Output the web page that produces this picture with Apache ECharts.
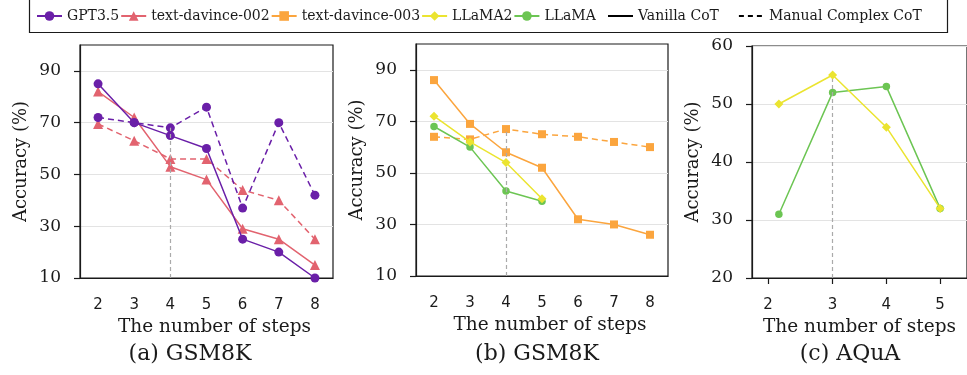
<!DOCTYPE html>
<html><head><meta charset="utf-8">
<script src="https://cdn.jsdelivr.net/npm/echarts@6/dist/echarts.min.js"></script>
<style>html,body{margin:0;padding:0;background:#fff}#c{width:967px;height:375px}</style>
</head><body><div id="c"></div>
<script>
// ---- data ----
const stepsAB = ['2','3','4','5','6','7','8'];
const stepsC = [2,3,4,5];
const yTicksAB = [10,30,50,70,90];
const yTicksC = [20,30,40,50,60];
const cTickLabels = ['2','3','4','5'];

const gptVanilla   = [85,70,65,60,25,20,10];
const gptComplex   = [72,70,68,76,37,70,42];
const d002Vanilla  = [82,72,53,48,29,25,15];
const d002Complex  = [69.5,63,56,56,44,40,25];
const d003Vanilla  = [86,69,58,52,32,30,26];
const d003Complex  = [64,63,67,65,64,62,60];
const llama2GSM    = [72,62,54,40];
const llamaGSM     = [68,60,43,39];
const llama2AQuA   = [50,55,46,32];
const llamaAQuA    = [31,52,53,32];

const modelNames = ['GPT3.5','text-davince-002','text-davince-003','LLaMA2','LLaMA'];
const styleNames = ['Vanilla CoT','Manual Complex CoT'];
const captions = ['(a) GSM8K','(b) GSM8K','(c) AQuA'];

// ---- styles ----
const SERIF = '"DejaVu Serif"';
const SANS = '"DejaVu Sans"';
const INK = '#1a1a1a';
const C = {gpt:'#6a1fa8', d002:'#e2636f', d003:'#fba53e', llama2:'#ebe430', llama:'#6cc553'};
const DASH = [6,4];

function ln(name, data, color, symbol, size, dashed, gi, z, mark) {
  const s = {
    type:'line', name, data, xAxisIndex:gi, yAxisIndex:gi,
    symbol, symbolSize:size, color, z: z || 2,
    lineStyle:{width:1.5, color, type: dashed ? DASH : 'solid'},
    itemStyle:{color}, emphasis:{disabled:true}, animation:false
  };
  if (mark) {
    s.markLine = {
      silent:true, symbol:'none', animation:false,
      label:{show:false},
      lineStyle:{color:'#aaaaaa', width:1.2, type:[4,3]},
      data:[[{coord:mark[0]},{coord:mark[1]}]]
    };
  }
  return s;
}

function xCat(gi) {
  return {
    type:'category', gridIndex:gi, data:stepsAB, boundaryGap:true,
    axisLine:{lineStyle:{color:INK, width:1.2}},
    axisTick:{alignWithLabel:true, length:6, lineStyle:{color:INK, width:1.2}},
    axisLabel:{margin:20, fontFamily:SANS, fontSize:15, color:INK},
    splitLine:{show:false},
    name:'The number of steps', nameLocation:'middle', nameGap:40,
    nameTextStyle:{fontFamily:SERIF, fontSize:18.5, color:INK, padding:[0,0,0,16]}
  };
}
function yVal(gi, min, max, ticks, interval) {
  return {
    type:'value', gridIndex:gi, min, max, interval,
    axisLine:{show:true, lineStyle:{color:INK, width:1.2}},
    axisTick:{show:true, length:6, customValues:ticks, lineStyle:{color:INK, width:1.2}},
    axisLabel:{margin:19, customValues:ticks, fontFamily:SERIF, fontSize:17, color:INK},
    splitLine:{show:true, lineStyle:{color:'#e3e3e3', width:1.2}},
    name:'Accuracy (%)', nameLocation:'middle', nameGap:50,
    nameTextStyle:{fontFamily:SERIF, fontSize:18, color:INK}
  };
}

const gridBase = {show:true, borderColor:INK, borderWidth:1.2, backgroundColor:'transparent'};
const legendText = {fontFamily:SERIF, fontSize:14, color:INK};
const captionX = [190, 537, 850];

const option = {
  animation:false,
  backgroundColor:'#ffffff',
  grid:[
    Object.assign({left:80, top:45, width:253, height:233}, gridBase),
    Object.assign({left:416, top:44, width:252, height:232}, gridBase),
    Object.assign({left:752, top:46, width:220, height:232}, gridBase)
  ],
  xAxis:[
    xCat(0), xCat(1),
    {
      type:'value', gridIndex:2, min:1.5, max:5.5,
      axisLine:{lineStyle:{color:INK, width:1.2}},
      axisTick:{length:6, customValues:[1.8,3,4,5], lineStyle:{color:INK, width:1.2}},
      axisLabel:{margin:20, customValues:[1.8,3,4,5], fontFamily:SANS, fontSize:15, color:INK,
        formatter:v => cTickLabels[Math.round(v) - 2]},
      splitLine:{show:false},
      name:'The number of steps', nameLocation:'middle', nameGap:40,
      nameTextStyle:{fontFamily:SERIF, fontSize:18.5, color:INK}
    }
  ],
  yAxis:[
    yVal(0, 10, 100, yTicksAB, 20),
    yVal(1, 10, 100, yTicksAB, 20),
    yVal(2, 20, 60, yTicksC, 10)
  ],
  legend:[
    {left:36, top:9, padding:0, itemGap:1, itemWidth:25, itemHeight:12,
     data:modelNames, selectedMode:false, textStyle:legendText},
    {left:607, top:9, padding:0, itemGap:19, itemWidth:25, itemHeight:12,
     data:styleNames.map(n => ({name:n, itemStyle:{opacity:0}})),
     selectedMode:false, textStyle:legendText}
  ],
  graphic:[
    {type:'rect', silent:true, shape:{x:29.5, y:-5, width:918, height:37.5},
     style:{fill:'none', stroke:INK, lineWidth:1.2}}
  ].concat(captions.map((t, i) => ({
     type:'text', silent:true, x:captionX[i], y:354,
     style:{text:t, font:'22px "DejaVu Serif"', fill:INK, align:'center', verticalAlign:'middle'}
  }))),
  series:[
    // panel (a)
    ln('GPT3.5', gptVanilla, C.gpt, 'circle', 9, false, 0, 4),
    ln('text-davince-002', d002Vanilla, C.d002, 'triangle', 10, false, 0, 3),
    ln('GPT3.5', gptComplex, C.gpt, 'circle', 9, true, 0, 4, [[stepsAB[2], 10],[stepsAB[2], gptComplex[2]]]),
    ln('text-davince-002', d002Complex, C.d002, 'triangle', 10, true, 0, 3),
    // panel (b)
    ln('text-davince-003', d003Vanilla, C.d003, 'rect', 8, false, 1, 3),
    ln('text-davince-003', d003Complex, C.d003, 'rect', 8, true, 1, 3, [[stepsAB[2], 10],[stepsAB[2], d003Complex[2]]]),
    ln('LLaMA', llamaGSM, C.llama, 'circle', 7.5, false, 1, 4),
    ln('LLaMA2', llama2GSM, C.llama2, 'diamond', 9, false, 1, 5),
    // panel (c)
    ln('LLaMA', stepsC.map((s,i)=>[s, llamaAQuA[i]]), C.llama, 'circle', 7.5, false, 2, 4),
    ln('LLaMA2', stepsC.map((s,i)=>[s, llama2AQuA[i]]), C.llama2, 'diamond', 9, false, 2, 5, [[stepsC[1], 20],[stepsC[1], llama2AQuA[1]]]),
    // legend-only style keys
    {type:'line', name:'Vanilla CoT', data:[], xAxisIndex:0, yAxisIndex:0, symbol:'none', color:'#000',
     lineStyle:{width:1.5, color:'#000', type:'solid'}},
    {type:'line', name:'Manual Complex CoT', data:[], xAxisIndex:0, yAxisIndex:0, symbol:'none', color:'#000',
     lineStyle:{width:1.5, color:'#000', type:[5,4]}}
  ]
};

const chart = echarts.init(document.getElementById('c'), null, {renderer:'canvas'});
chart.setOption(option);
</script>
</body></html>
